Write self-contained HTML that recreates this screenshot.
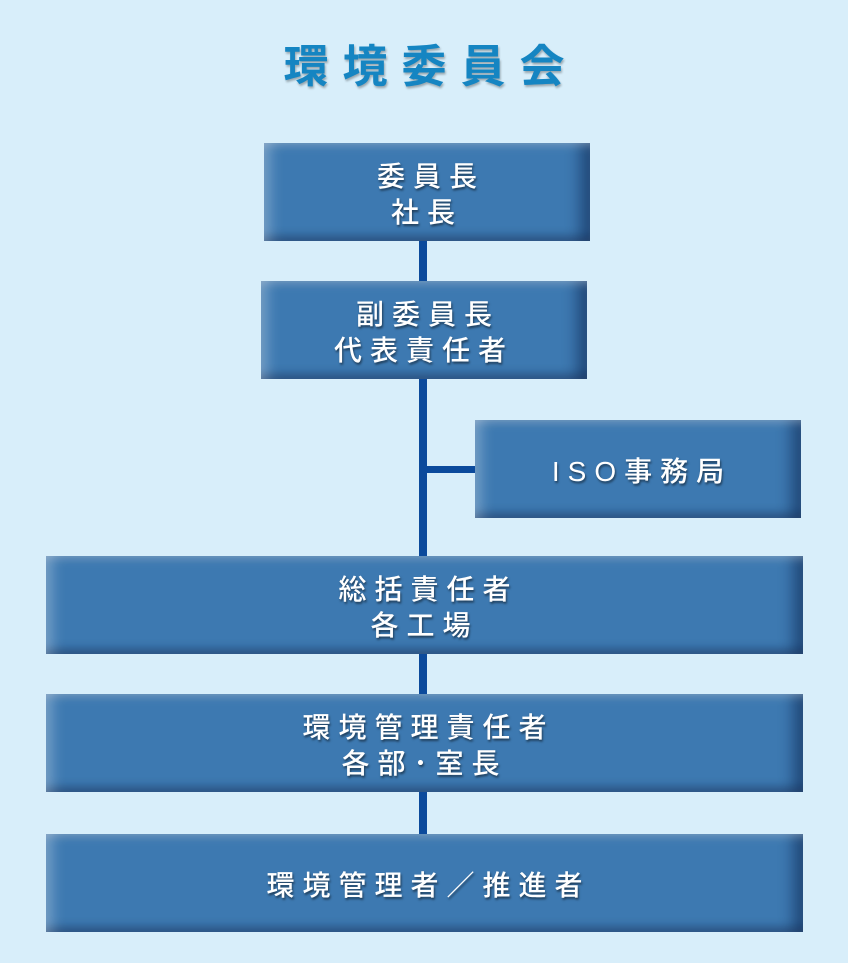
<!DOCTYPE html>
<html><head><meta charset="utf-8"><style>
body{margin:0;width:848px;height:963px;background:#d8eefa;position:relative;overflow:hidden;font-family:"Liberation Sans","Noto Sans CJK JP",sans-serif}
.t{position:absolute;left:0;width:848px;top:30px;text-align:center;font-size:45px;font-weight:bold;color:#1585c2;letter-spacing:14px;text-indent:14px;text-shadow:1px 2px 2px rgba(0,0,0,.3)}
.b{position:absolute;box-sizing:border-box;padding-top:6px;background:#3d79b1;box-shadow:inset 12px 0 14px -6px rgba(255,255,255,.3),inset 0 8px 10px -6px rgba(255,255,255,.3),inset -16px 0 14px -6px rgba(0,20,60,.45),inset 0 -10px 10px -6px rgba(0,20,60,.45);color:#fff;font-size:28px;font-weight:500;letter-spacing:8px;text-indent:8px;line-height:36px;display:flex;align-items:center;justify-content:center;text-align:center;text-shadow:1px 2px 2px rgba(0,0,0,.5)}
.l{position:absolute;background:#0b4a9c}
</style></head><body>
<div class="t">環境委員会</div>
<div class="l" style="left:419px;top:241px;width:8px;height:593px"></div>
<div class="l" style="left:423px;top:466px;width:52px;height:7px"></div>
<div class="b" style="left:264px;top:143px;width:326px;height:98px">委員長<br>社長</div>
<div class="b" style="left:261px;top:281px;width:326px;height:98px">副委員長<br>代表責任者</div>
<div class="b" style="left:475px;top:420px;width:326px;height:98px">ISO事務局</div>
<div class="b" style="left:46px;top:556px;width:757px;height:98px">総括責任者<br>各工場</div>
<div class="b" style="left:46px;top:694px;width:757px;height:98px">環境管理責任者<br>各部･室長</div>
<div class="b" style="left:46px;top:834px;width:757px;height:98px">環境管理者／推進者</div>
</body></html>
